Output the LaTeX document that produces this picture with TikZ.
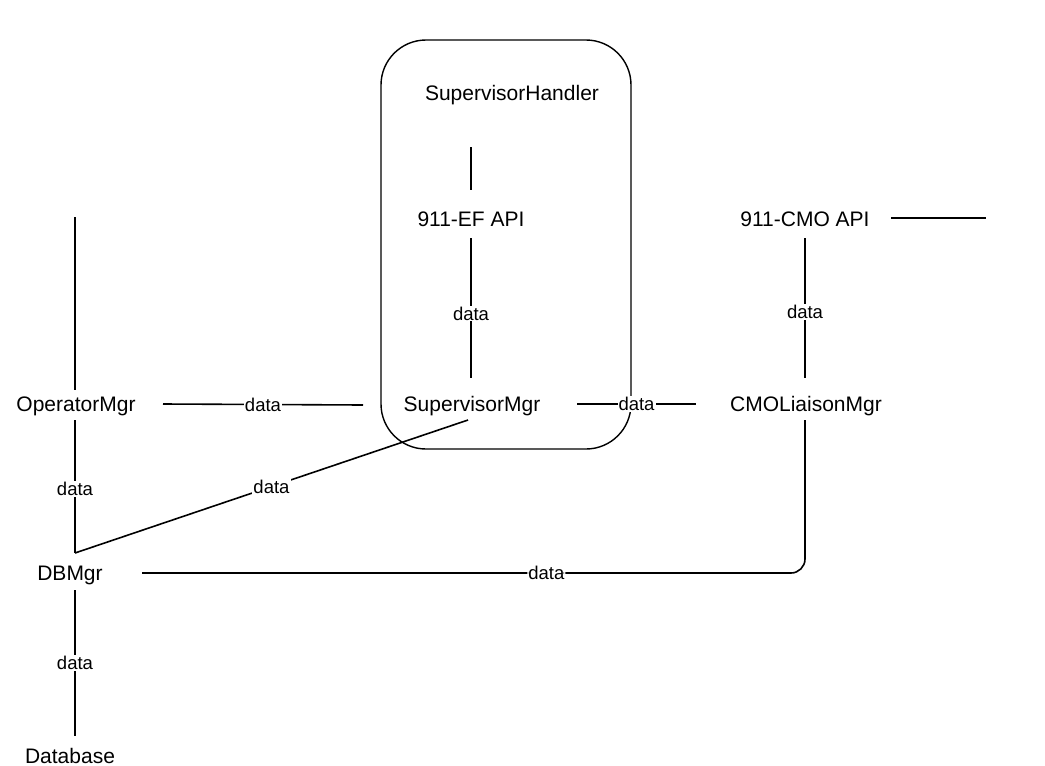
\documentclass[tikz,border=0pt]{standalone}
\usepackage{fontspec}
\setmainfont{Liberation Sans}
\usetikzlibrary{calc}
\begin{document}
\begin{tikzpicture}[x=1pt,y=-1pt,
  lbl/.style={font=\fontsize{21}{25}\selectfont, inner sep=0pt},
  dl/.style={font=\fontsize{18.5}{22}\selectfont, fill=white, inner sep=1pt},
  wire/.style={line width=1.6pt},
  frame/.style={draw, line width=1.4pt, rounded corners=45pt, minimum width=250pt, minimum height=409pt}]
\useasboundingbox (0,0) rectangle (1045,766);
\node[frame] (handler) at (506,244.5) {};
\node[lbl] (sh) at (512,95) {SupervisorHandler};
\node[lbl] (op) at (76,406) {OperatorMgr};
\node[lbl] (sup) at (472,406) {SupervisorMgr};
\node[lbl] (cmo) at (806,406) {CMOLiaisonMgr};
\node[lbl] (ef) at (471,219) {911-EF API};
\node[lbl] (capi) at (805,219) {911-CMO API};
\node[lbl] (db) at (70,575) {DBMgr};
\node[lbl] (dbase) at (70,756) {Database};
\coordinate (eftop) at (471,147);
\coordinate (optop) at (75,217);
\coordinate (capiend) at (986,218);

\draw[wire] (eftop) -- ($(ef)+(0,-29)$);
\draw[wire] ($(ef)+(0,19)$) -- node[dl, pos=0.54]{data} ($(sup)+(-1,-28)$);
\draw[wire] (optop) -- ($(op)+(-1,-16)$);
\draw[wire] ($(op)+(87,-2)$) -- node[dl]{data} ($(sup)+(-109,-1)$);
\draw[wire] ($(op)+(-1,14)$) -- node[dl, pos=0.52]{data} ($(db)+(5,-22)$);
\draw[wire] ($(sup)+(-4,14)$) -- node[dl, pos=0.5]{data} ($(db)+(5,-22)$);
\draw[wire] ($(db)+(5,15)$) -- node[dl]{data} ($(dbase)+(5,-20)$);
\draw[wire, rounded corners=14pt] ($(db)+(72,-2)$) -| node[dl, pos=0.305]{data} ($(cmo)+(-1,14)$);
\draw[wire] ($(sup)+(105,-2)$) -- node[dl]{data} ($(cmo)+(-110,-2)$);
\draw[wire] ($(capi)+(0,19)$) -- node[dl, pos=0.53]{data} ($(cmo)+(-1,-28)$);
\draw[wire] ($(capi)+(86,-1)$) -- (capiend);
\end{tikzpicture}
\end{document}
